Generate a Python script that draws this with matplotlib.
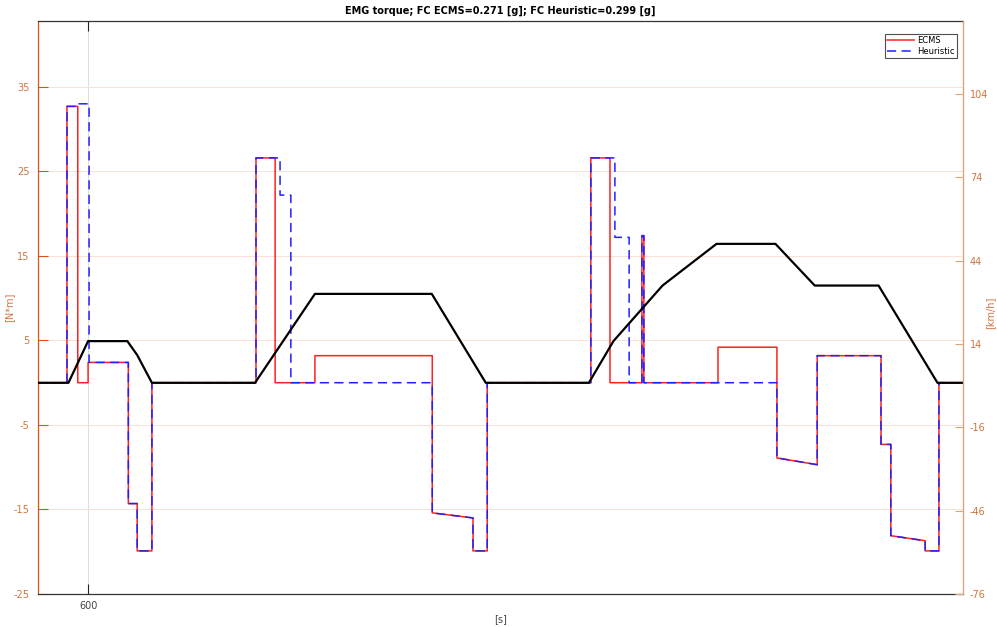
import matplotlib
matplotlib.use("Agg")
import matplotlib.pyplot as plt

plt.rcParams["axes.unicode_minus"] = False

# EMG torque of both strategies over one urban cycle, plus the vehicle speed

# ECMS torque [N*m]  (repeated times are the jumps)
t_ecms = [589.8, 595.7, 595.7, 597.9, 597.9, 600.0, 600.0, 608.2, 608.2, 610.0,
          610.0, 613.0, 613.0, 634.2, 634.2, 638.1, 638.1, 646.2, 646.2, 670.1,
          670.1, 678.4, 678.4, 681.3, 681.3, 702.4, 702.4, 706.3, 706.3, 712.8,
          712.8, 713.2, 713.2, 728.3, 728.3, 740.3, 740.3, 748.5, 748.5, 761.5,
          761.5, 763.5, 763.5, 770.5, 770.5, 773.3, 773.3, 778.2]
tq_ecms = [0, 0, 32.7, 32.7, 0, 0, 2.4, 2.4, -14.3, -14.3,
           -19.9, -19.9, 0, 0, 26.6, 26.6, 0, 0, 3.2, 3.2,
           -15.4, -16.0, -19.9, -19.9, 0, 0, 26.6, 26.6, 0, 0,
           17.4, 17.4, 0, 0, 4.2, 4.2, -8.9, -9.7, 3.2, 3.2,
           -7.3, -7.3, -18.1, -18.7, -19.9, -19.9, 0, 0]

# heuristic torque [N*m]
t_heur = [589.8, 595.7, 595.7, 597.9, 597.9, 600.2, 600.2, 608.2, 608.2, 610.0,
          610.0, 613.0, 613.0, 634.2, 634.2, 639.1, 639.1, 641.3, 641.3, 670.1,
          670.1, 678.4, 678.4, 681.3, 681.3, 702.4, 702.4, 707.3, 707.3, 710.2,
          710.2, 712.8, 712.8, 713.2, 713.2, 740.3, 740.3, 748.5, 748.5, 761.5,
          761.5, 763.5, 763.5, 770.5, 770.5, 773.3, 773.3, 778.2]
tq_heur = [0, 0, 32.7, 32.7, 33.0, 33.0, 2.4, 2.4, -14.3, -14.3,
           -19.9, -19.9, 0, 0, 26.6, 26.6, 22.2, 22.2, 0, 0,
           -15.4, -16.0, -19.9, -19.9, 0, 0, 26.6, 26.6, 17.2, 17.2,
           0, 0, 17.4, 17.4, 0, 0, -8.9, -9.7, 3.2, 3.2,
           -7.3, -7.3, -18.1, -18.7, -19.9, -19.9, 0, 0]

# vehicle speed [km/h]
t_speed = [589.8, 596, 600, 608, 610, 613, 634, 646.2, 670, 681,
           702, 707, 717, 728, 740, 748, 761, 773, 778.2]
v_speed = [0, 0, 15, 15, 10, 0, 0, 32, 32, 0,
           0, 15, 35, 50, 50, 35, 35, 0, 0]

left_ticks = [-25, -15, -5, 5, 15, 25, 35]
right_ticks = [-76, -46, -16, 14, 44, 74, 104]

orange = "#D95319"
tan = "#DDA47A"
lbl = "#D2733E"

fig = plt.figure(figsize=(9.97, 6.27), dpi=100)
ax1 = fig.add_axes([38 / 997, 33 / 627, 925 / 997, 573 / 627])

ax1.plot(t_ecms, tq_ecms, color="#FF2020", lw=1.1, label="ECMS")
ax1.plot(t_heur, tq_heur, color="#2020FF", lw=1.1, ls=(0, (6, 3.5)), label="Heuristic")

ax1.set_xlim(589.8, 778.2)
ax1.set_ylim(-25, 42.8)
ax1.set_xticks([600])
ax1.set_yticks(left_ticks)
ax1.tick_params(axis="y", direction="in", length=7, width=0.8, colors=orange,
                labelcolor=lbl, labelsize=7, right=True, pad=6)
ax1.tick_params(axis="x", direction="in", length=7, width=0.8, color="#222222",
                labelcolor="#444444", labelsize=7, top=True, pad=5)
ax1.grid(axis="y", color="#F9E0D8", lw=0.7)
ax1.grid(axis="x", color="#DDDDDD", lw=0.7)
for s in ["top", "bottom"]:
    ax1.spines[s].set_color("#333333")
    ax1.spines[s].set_linewidth(0.9)
ax1.spines["left"].set_color(orange)
ax1.spines["left"].set_linewidth(0.9)
ax1.spines["right"].set_visible(False)
ax1.set_ylabel("[N*m]", color=lbl, fontsize=7)
ax1.yaxis.set_label_coords(-0.026, 0.5)
ax1.set_xlabel("[s]", color="#444444", fontsize=7, labelpad=2)
ax1.set_title("EMG torque; FC ECMS=0.271 [g]; FC Heuristic=0.299 [g]",
              fontsize=7, fontweight="bold", pad=5)

ax2 = ax1.twinx()
ax2.plot(t_speed, v_speed, color="black", lw=1.6)
ax2.set_ylim(-76, 130.2)
ax2.set_yticks(right_ticks)
ax2.tick_params(axis="y", direction="in", length=6, width=0.8, colors=tan,
                labelcolor=lbl, labelsize=7, pad=5)
for s in ["top", "bottom", "left"]:
    ax2.spines[s].set_visible(False)
ax2.spines["right"].set_color(tan)
ax2.spines["right"].set_linewidth(1.0)
ax2.set_ylabel("[km/h]", color=lbl, fontsize=7)
ax2.yaxis.set_label_coords(1.0245, 0.49)

h, l = ax1.get_legend_handles_labels()
leg = ax2.legend(h, l, loc="upper right", bbox_to_anchor=(0.9985, 0.985),
                 fontsize=6, frameon=True, fancybox=False, borderpad=0.3,
                 handlelength=3.2, handletextpad=0.4, labelspacing=0.2)
leg.get_frame().set_edgecolor("#222222")
leg.get_frame().set_linewidth(0.8)

fig.savefig("out.png", dpi=100)
